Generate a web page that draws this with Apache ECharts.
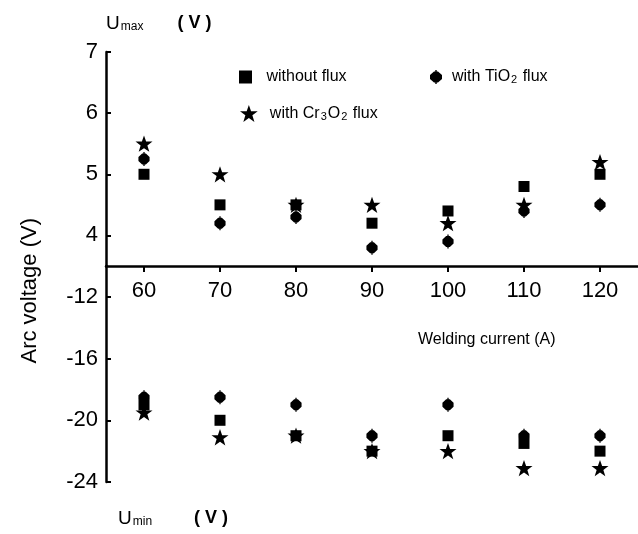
<!DOCTYPE html>
<html>
<head>
<meta charset="utf-8">
<script src="https://cdn.jsdelivr.net/npm/echarts@6/dist/echarts.min.js"></script>
<style>html,body{margin:0;padding:0;background:#fff;}#c{width:638px;height:534px;}</style>
</head>
<body>
<div id="c"></div>
<script>
const xValues = [60, 70, 80, 90, 100, 110, 120];
const upperNoFlux = [5.0, 4.5, 4.5, 4.2, 4.4, 4.8, 5.0];
const upperTiO2 = [5.25, 4.2, 4.3, 3.8, 3.9, 4.4, 4.5];
const upperCr = [5.5, 5.0, 4.5, 4.5, 4.2, 4.5, 5.2];
const lowerNoFlux = [-19.0, -20.0, -21.0, -22.0, -21.0, -21.5, -22.0];
const lowerTiO2 = [-18.5, -18.5, -19.0, -21.0, -19.0, -21.0, -21.0];
const lowerCr = [-19.5, -21.1, -21.0, -22.0, -22.0, -23.1, -23.1];
const upperTicks = [4, 5, 6, 7];
const lowerTicks = [-24, -20, -16, -12];
const xTicks = [60, 70, 80, 90, 100, 110, 120];
const seriesNames = ['without flux', 'with TiO2 flux', 'with Cr3O2 flux'];

const SQ = 'path://M0,0 L10,0 L10,10 L0,10 Z';
const HEX = 'path://M4,1.5 L8,1.5 L12,5 L12,9 L8,12.5 L4,12.5 L0,9 L0,5 Z M5.3,0 L6.7,0 L6.7,1.5 L5.3,1.5 Z M5.3,12.5 L6.7,12.5 L6.7,14 L5.3,14 Z';
const STAR = 'path://M50,0 L62,34 L98,34 L69,56 L80,92 L50,71 L20,92 L31,56 L2,34 L38,34 Z';

const fontNum = '"Liberation Sans", Arial, sans-serif';
const fontTxt = '"Liberation Sans", Arial, sans-serif';

const pair = (xs, ys) => xs.map((x, i) => [x, ys[i]]);

const chart = echarts.init(document.getElementById('c'), null, {renderer: 'canvas'});

function mkSeries(name, data, sym, size, gi) {
  return {
    type: 'scatter', name: name, xAxisIndex: gi, yAxisIndex: gi,
    data: data, symbol: sym, symbolSize: size, symbolKeepAspect: true,
    itemStyle: {color: '#000', opacity: 1}, emphasis: {disabled: true}, animation: false
  };
}

const legendText = {
  fontFamily: fontTxt, fontSize: 16, color: '#000',
  rich: {
    a: {fontFamily: fontTxt, fontSize: 16, color: '#000'},
    s: {fontFamily: fontTxt, fontSize: 11, color: '#000', padding: [6, 1, 0, 1]}
  }
};
const legendFmt = function (n) {
  if (n === 'with TiO2 flux') return '{a|with TiO}{s|2}{a| flux}';
  if (n === 'with Cr3O2 flux') return '{a|with Cr}{s|3}{a|O}{s|2}{a| flux}';
  return '{a|' + n + '}';
};

const yAxisCommon = {
  type: 'value', splitLine: {show: false},
  axisLine: {show: true, onZero: false, lineStyle: {color: '#000', width: 2.5}},
  axisTick: {show: true, inside: true, length: 5, lineStyle: {color: '#000', width: 2}},
  axisLabel: {fontFamily: fontNum, fontSize: 22, color: '#000', margin: 8}
};

const option = {
  backgroundColor: '#fff',
  animation: false,
  grid: [
    {left: 106, top: 52, width: 536, height: 214},
    {left: 106, top: 266, width: 536, height: 216}
  ],
  xAxis: [
    {
      type: 'value', gridIndex: 0, min: 55, max: 125, position: 'bottom',
      splitLine: {show: false},
      axisLine: {show: true, onZero: false, lineStyle: {color: '#000', width: 2.5}},
      axisTick: {show: true, length: 6, customValues: xTicks, lineStyle: {color: '#000', width: 2}},
      axisLabel: {customValues: xTicks, fontFamily: fontNum, fontSize: 22, color: '#000', margin: 14}
    },
    {type: 'value', gridIndex: 1, min: 55, max: 125, show: false}
  ],
  yAxis: [
    Object.assign({}, yAxisCommon, {
      gridIndex: 0, min: 3.5, max: 7,
      axisTick: Object.assign({}, yAxisCommon.axisTick, {customValues: upperTicks}),
      axisLabel: Object.assign({}, yAxisCommon.axisLabel, {customValues: upperTicks})
    }),
    Object.assign({}, yAxisCommon, {
      gridIndex: 1, min: -24, max: -10,
      axisTick: Object.assign({}, yAxisCommon.axisTick, {customValues: lowerTicks}),
      axisLabel: Object.assign({}, yAxisCommon.axisLabel, {customValues: lowerTicks})
    })
  ],
  legend: [
    {data: [{name: seriesNames[0], icon: SQ}], left: 234, top: 64, itemWidth: 32, itemHeight: 13,
     formatter: legendFmt, textStyle: legendText, selectedMode: false},
    {data: [{name: seriesNames[1], icon: HEX}], left: 425, top: 64, itemWidth: 22, itemHeight: 14,
     formatter: legendFmt, textStyle: legendText, selectedMode: false},
    {data: [{name: seriesNames[2], icon: STAR}], left: 235, top: 100, itemWidth: 32, itemHeight: 17,
     formatter: legendFmt, textStyle: legendText, selectedMode: false}
  ],
  graphic: [
    {type: 'text', left: 19, top: 218, rotation: Math.PI / 2,
     style: {text: 'Arc voltage (V)', font: '22px ' + fontTxt, fill: '#000'}},
    {type: 'text', left: 418, top: 332,
     style: {text: 'Welding current (A)', font: '16px ' + fontTxt, fill: '#000'}},
    {type: 'text', left: 106, top: 14,
     style: {
       text: '{u|U}{s|max}{g| }{p|( V )}',
       rich: {
         u: {fontFamily: fontNum, fontSize: 19, color: '#000'},
         s: {fontFamily: fontNum, fontSize: 12, color: '#000', padding: [7, 0, 0, 1]},
         g: {fontSize: 12, width: 34},
         p: {fontFamily: fontTxt, fontSize: 18, fontWeight: 'bold', color: '#000'}
       }
     }},
    {type: 'text', left: 118, top: 509,
     style: {
       text: '{u|U}{s|min}{g| }{p|( V )}',
       rich: {
         u: {fontFamily: fontNum, fontSize: 19, color: '#000'},
         s: {fontFamily: fontNum, fontSize: 12, color: '#000', padding: [7, 0, 0, 1]},
         g: {fontSize: 12, width: 42},
         p: {fontFamily: fontTxt, fontSize: 18, fontWeight: 'bold', color: '#000'}
       }
     }}
  ],
  series: [
    mkSeries(seriesNames[0], pair(xValues, upperNoFlux), SQ, 11, 0),
    mkSeries(seriesNames[1], pair(xValues, upperTiO2), HEX, [13, 14], 0),
    mkSeries(seriesNames[2], pair(xValues, upperCr), STAR, 17, 0),
    mkSeries(seriesNames[0], pair(xValues, lowerNoFlux), SQ, 11, 1),
    mkSeries(seriesNames[1], pair(xValues, lowerTiO2), HEX, [13, 14], 1),
    mkSeries(seriesNames[2], pair(xValues, lowerCr), STAR, 17, 1)
  ]
};
chart.setOption(option);
</script>
</body>
</html>
